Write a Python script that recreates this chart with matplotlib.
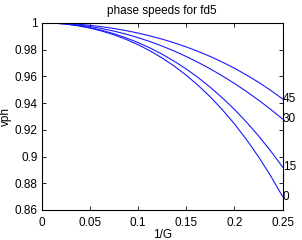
import matplotlib
matplotlib.use("Agg")
import matplotlib.pyplot as plt
from matplotlib.ticker import FuncFormatter

plt.rcParams['font.family'] = ['Liberation Sans', 'DejaVu Sans']

inv_G = [0, 0.0125, 0.025, 0.0375, 0.05, 0.0625, 0.075, 0.0875, 0.1, 0.1125,
         0.125, 0.1375, 0.15, 0.1625, 0.175, 0.1875, 0.2, 0.2125, 0.225, 0.2375, 0.25]

vph_0 = [1.0, 0.99976, 0.99903, 0.99780, 0.99606, 0.99380, 0.99099, 0.98761, 0.98362, 0.97898,
         0.97366, 0.96761, 0.96077, 0.95309, 0.94451, 0.93496, 0.92437, 0.91266, 0.89975, 0.88556, 0.86998]
vph_15 = [1.0, 0.99978, 0.99910, 0.99798, 0.99640, 0.99434, 0.99181, 0.98877, 0.98522, 0.98114,
          0.97649, 0.97126, 0.96542, 0.95892, 0.95174, 0.94384, 0.93518, 0.92572, 0.91541, 0.90419, 0.89203]
vph_30 = [1.0, 0.99983, 0.99931, 0.99845, 0.99724, 0.99568, 0.99377, 0.99151, 0.98889, 0.98592,
          0.98258, 0.97887, 0.97479, 0.97033, 0.96549, 0.96026, 0.95463, 0.94860, 0.94216, 0.93530, 0.92802]
vph_45 = [1.0, 0.99988, 0.99954, 0.99895, 0.99813, 0.99707, 0.99575, 0.99417, 0.99233, 0.99019,
          0.98777, 0.98503, 0.98196, 0.97854, 0.97476, 0.97059, 0.96600, 0.96098, 0.95549, 0.94951, 0.94301]

angles = ["0", "15", "30", "45"]
series = [vph_0, vph_15, vph_30, vph_45]

fig = plt.figure(figsize=(3.02, 2.40), dpi=100)
ax = fig.add_axes([0.138, 0.125, 0.798, 0.780])

for lab, vals in zip(angles, series):
    ax.plot(inv_G, vals, color=(0.1, 0.1, 1), linewidth=0.8)
    ax.text(inv_G[-1], vals[-1], lab, fontsize=8.5, ha='left', va='center')

ax.set_xlim(0, 0.25)
ax.set_ylim(0.86, 1.0)
ax.set_xticks([0, 0.05, 0.1, 0.15, 0.2, 0.25])
ax.set_yticks([0.86, 0.88, 0.9, 0.92, 0.94, 0.96, 0.98, 1.0])
fmt = FuncFormatter(lambda v, p: "%g" % round(v, 4))
ax.xaxis.set_major_formatter(fmt)
ax.yaxis.set_major_formatter(fmt)
ax.tick_params(direction='in', length=3, width=0.6, labelsize=8.5,
               top=True, right=True)
ax.tick_params(axis='x', pad=5)
ax.tick_params(axis='y', pad=3)
for s in ax.spines.values():
    s.set_linewidth(0.8)

ax.set_title("phase speeds for fd5", fontsize=8.5, pad=6)
ax.set_xlabel("1/G", fontsize=8.5, labelpad=0)
ax.set_ylabel("vph", fontsize=8.5, labelpad=2)

fig.savefig("out.png", dpi=100)
